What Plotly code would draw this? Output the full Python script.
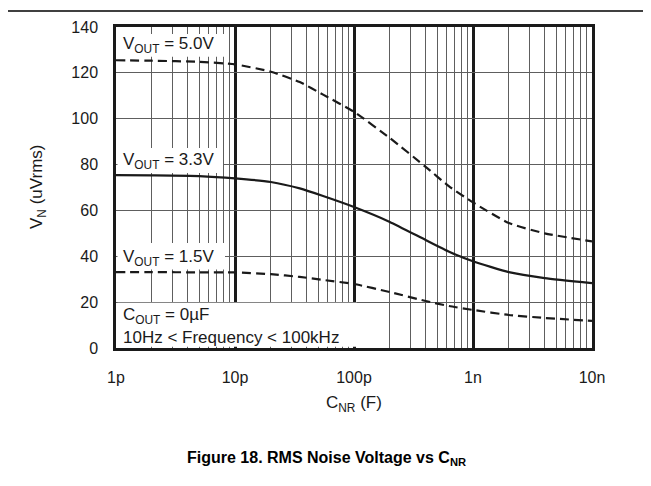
import plotly.graph_objects as go

# ---- data ----
cnr_f = [1e-12, 2e-12, 5e-12, 1e-11, 2e-11, 3.5e-11, 5.5e-11, 1e-10, 2e-10, 4e-10, 6.3e-10,
         1e-9, 2e-9, 4e-9, 1e-8]
vn_5v0 = [125.5, 125.3, 124.8, 123.7, 120.5, 116.0, 110.5, 103.0, 91.6, 79.0, 70.5,
          63.5, 54.5, 50.0, 46.5]
vn_3v3 = [75.4, 75.3, 75.0, 74.0, 72.4, 69.6, 66.3, 61.5, 55.0, 47.1, 42.0,
          37.8, 33.1, 30.5, 28.3]
vn_1v5 = [33.1, 33.1, 33.0, 33.0, 32.2, 31.0, 29.7, 27.9, 24.4, 20.5, 18.3,
          16.6, 14.4, 13.1, 11.8]

x_tickvals = [1e-12, 1e-11, 1e-10, 1e-9, 1e-8]
x_ticktext = ["1p", "10p", "100p", "1n", "10n"]
y_tickvals = [0, 20, 40, 60, 80, 100, 120, 140]

FONT = "Arial, Liberation Sans, sans-serif"
TXT = "#1a1a1a"

minor_vals = [k * d for d in [1e-12, 1e-11, 1e-10, 1e-9] for k in range(2, 10)]

# page offset (body margin) and figure size
OX, OY = 8, 8
FW, FH = 643, 478
# plot area in page pixels: x 116..592, y 27..348
PL, PR, PT, PB = 116, 592, 27, 348
L, R, T, B = PL - OX, PR - OX, PT - OY, PB - OY


def px(X):
    return (X - PL) / (PR - PL)


def py(Y):
    return (PB - Y) / (PB - PT)


fig = go.Figure()
line_w = 2.2
common = dict(shape="spline", smoothing=0.5, color="#1a1a1a", width=line_w)
fig.add_trace(go.Scatter(x=cnr_f, y=vn_5v0, mode="lines", line=dict(dash="9px,5px", **common)))
fig.add_trace(go.Scatter(x=cnr_f, y=vn_3v3, mode="lines", line=dict(**common)))
fig.add_trace(go.Scatter(x=cnr_f, y=vn_1v5, mode="lines", line=dict(dash="9px,5px", **common)))

# white label boxes covering the grid (page px for x, data for y)
boxes = [
    (117.5, 225, 127.0, 136.9),
    (117.5, 223, 76.3, 87.2),
    (117.5, 225, 34.2, 45.8),
    (117.5, 357, 0.55, 19.7),
]
shapes = []
for x0, x1, y0, y1 in boxes:
    shapes.append(dict(type="rect", xref="paper", yref="y", x0=px(x0), x1=px(x1), y0=y0, y1=y1,
                       fillcolor="white", line=dict(width=0), layer="above"))
# top rule line of the page header
shapes.append(dict(type="line", xref="paper", yref="paper", x0=px(8), x1=px(651), y0=py(11), y1=py(11),
                   line=dict(color="black", width=1.5)))

ann_font = dict(family=FONT, size=17, color=TXT)


def ann(text, X, Y, xanchor="left", **kw):
    d = dict(text=text, x=px(X), y=py(Y), xref="paper", yref="paper",
             xanchor=xanchor, yanchor="middle", showarrow=False, font=ann_font)
    d.update(kw)
    return d


annotations = [
    ann("V<sub>OUT</sub> = 5.0V", 121, 45),
    ann("V<sub>OUT</sub> = 3.3V", 121, 161),
    ann("V<sub>OUT</sub> = 1.5V", 121, 258),
    ann("C<sub>OUT</sub> = 0µF", 121, 316),
    ann("10Hz < Frequency < 100kHz", 121, 337),
    ann("C<sub>NR</sub> (F)", 354, 404, xanchor="center"),
    ann("V<sub>N</sub> (uVrms)", 38, 187, xanchor="center", textangle=-90),
    ann("<b>Figure 18. RMS Noise Voltage vs C<sub>NR</sub></b>", 326, 458, xanchor="center",
        font=dict(family=FONT, size=16, color="black")),
]

fig.update_layout(
    width=FW, height=FH,
    margin=dict(l=L, r=FW - R, t=T, b=FH - B),
    paper_bgcolor="white", plot_bgcolor="white",
    showlegend=False,
    shapes=shapes, annotations=annotations,
    font=dict(family=FONT, size=17, color=TXT),
)
fig.update_xaxes(
    type="log", range=[-12, -8],
    tickvals=x_tickvals, ticktext=x_ticktext,
    showgrid=True, gridcolor="#1a1a1a", gridwidth=2.5,
    minor=dict(tickvals=minor_vals, showgrid=True, gridcolor="#5e5e5e", gridwidth=1, ticks=""),
    showline=True, linecolor="#1a1a1a", linewidth=2.5, mirror=True,
    ticks="", ticklabelstandoff=13, zeroline=False,
    tickfont=dict(family=FONT, size=16, color=TXT),
)
fig.update_yaxes(
    range=[0, 140], tickvals=y_tickvals,
    showgrid=True, gridcolor="#5e5e5e", gridwidth=1,
    showline=True, linecolor="#1a1a1a", linewidth=2.5, mirror=True,
    ticks="", ticklabelstandoff=12, zeroline=False,
    tickfont=dict(family=FONT, size=16, color=TXT),
)

fig.write_html("out.html")
